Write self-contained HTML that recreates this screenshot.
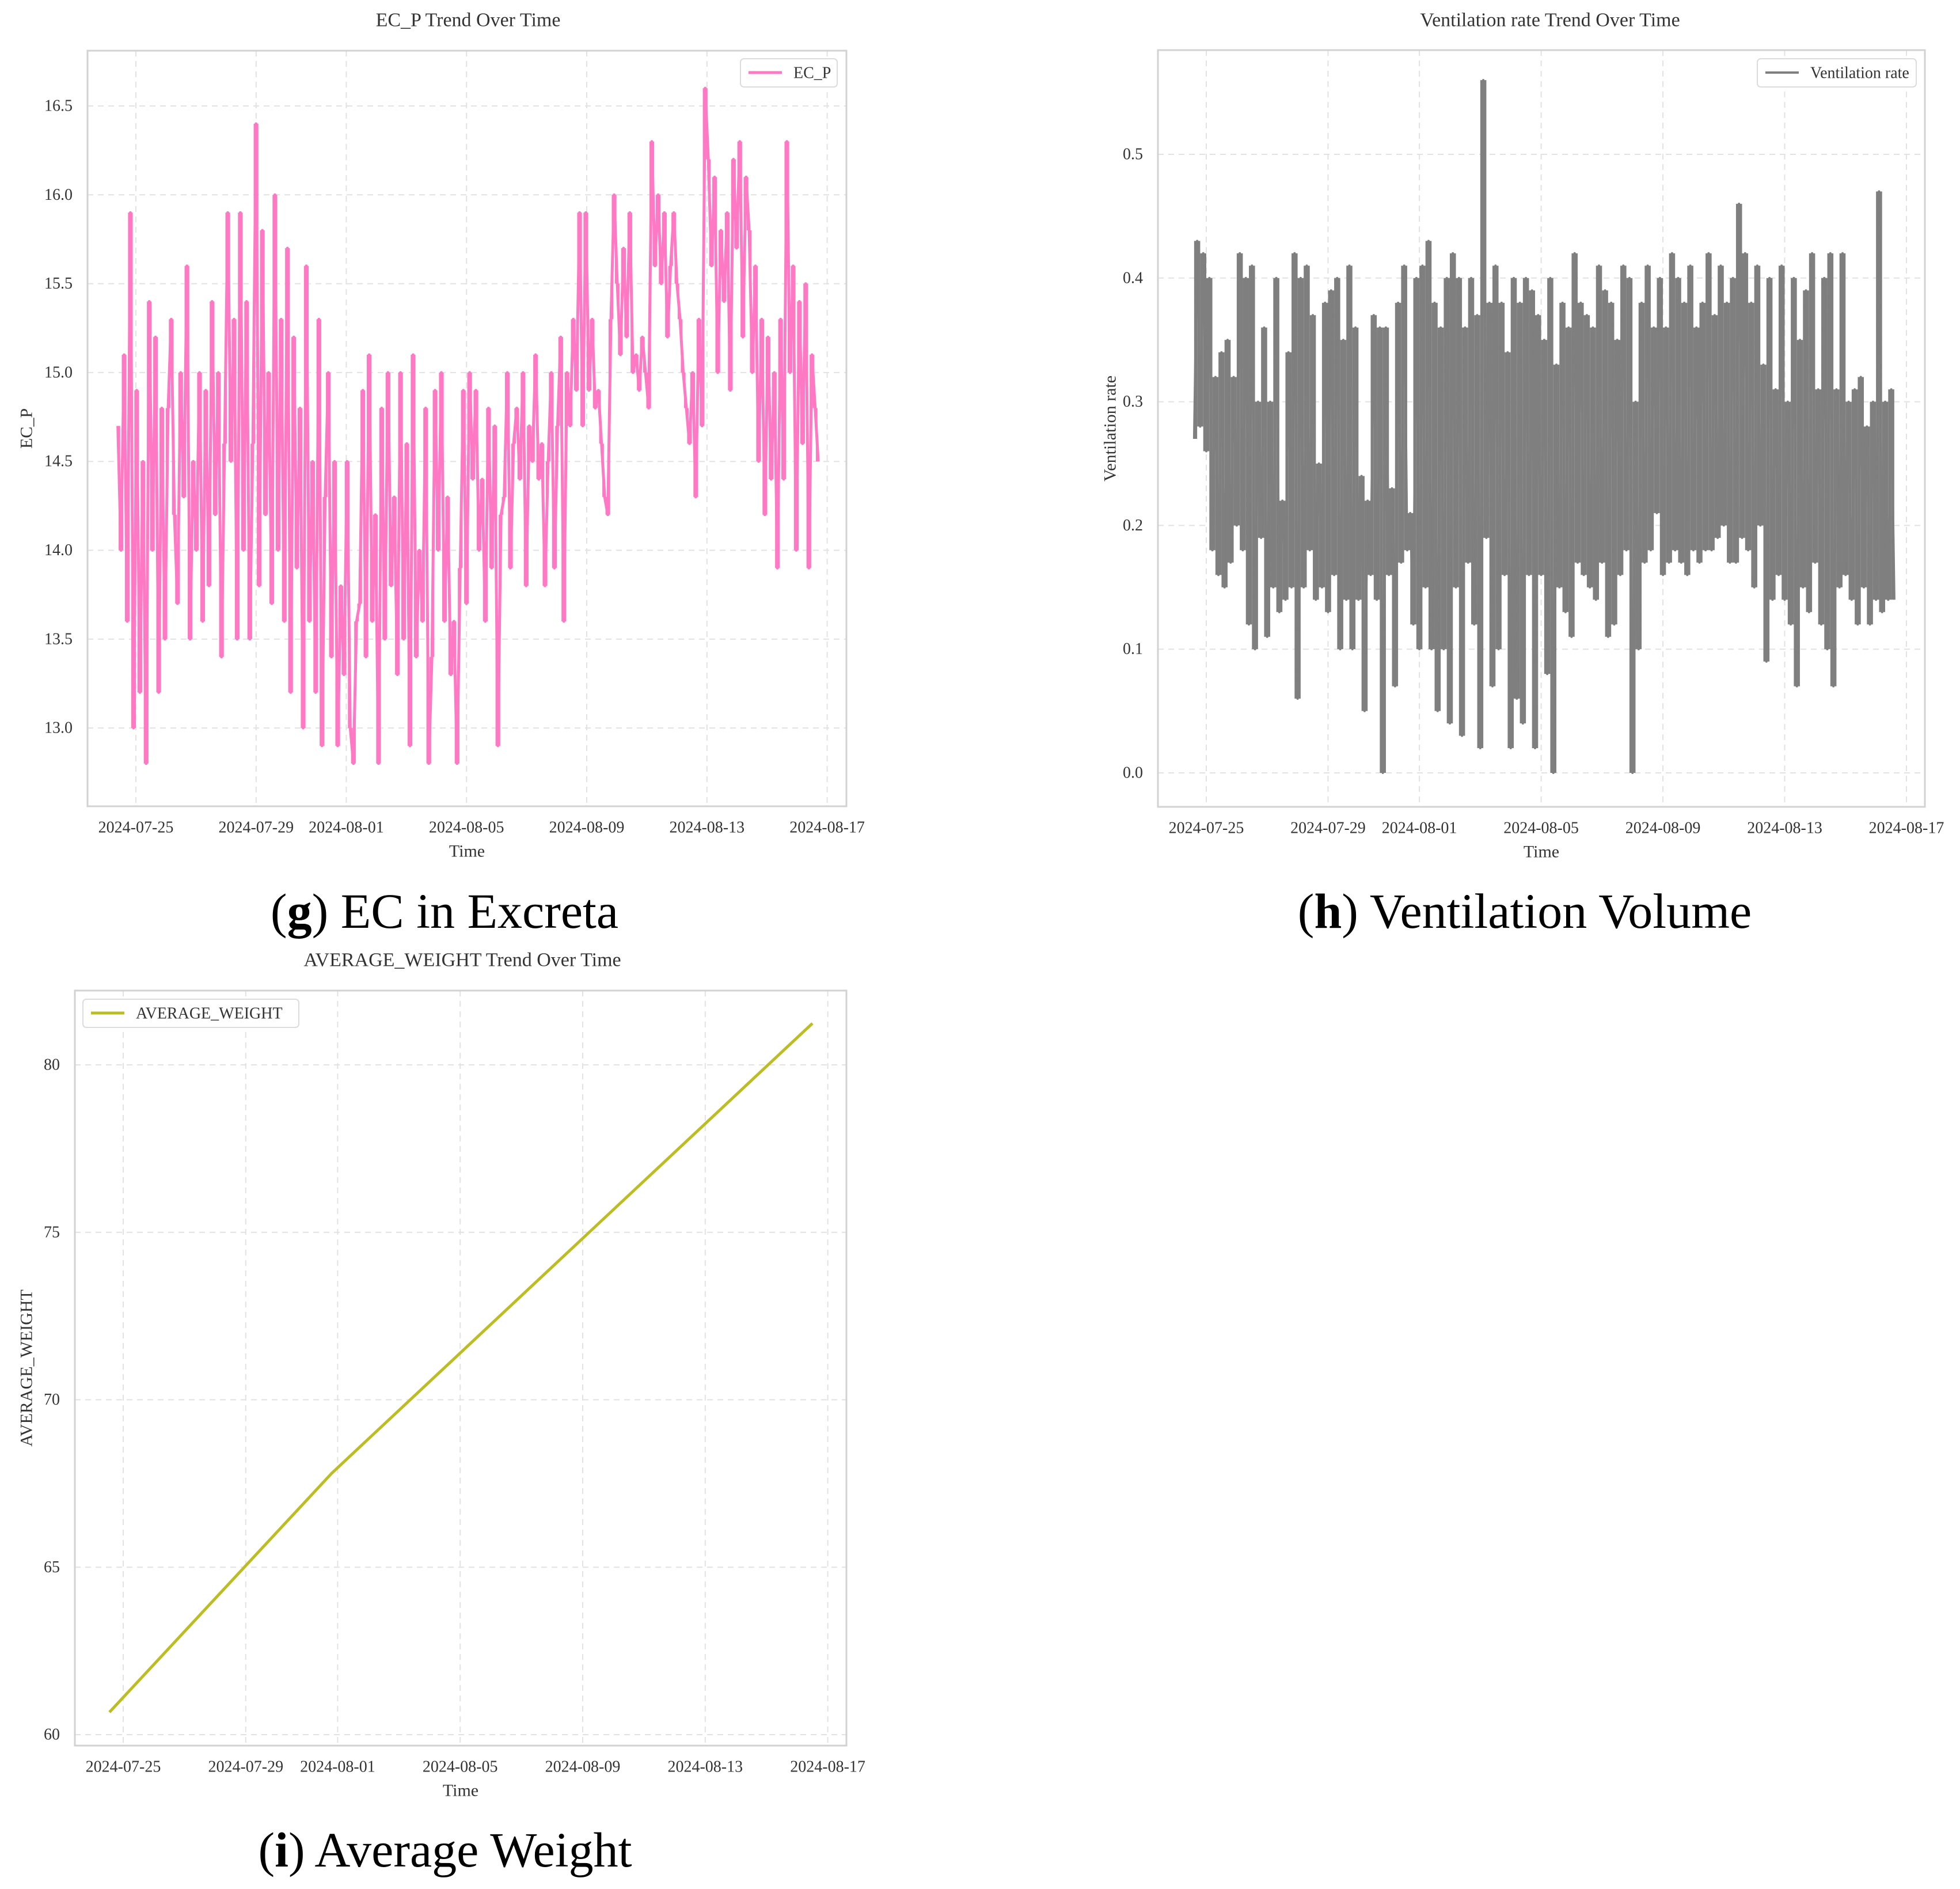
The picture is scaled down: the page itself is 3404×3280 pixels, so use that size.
<!DOCTYPE html>
<html><head><meta charset="utf-8"><style>
html,body{margin:0;padding:0;background:#fff;}
svg{display:block;font-family:"Liberation Serif",serif;}
</style></head><body>
<svg id="s" width="3404" height="3280" viewBox="0 0 3404 3280" xmlns="http://www.w3.org/2000/svg"></svg>
<script>
// ---- data ----
const dateTicks = ["2024-07-25","2024-07-29","2024-08-01","2024-08-05","2024-08-09","2024-08-13","2024-08-17"];
const dateTickDays = [0,4,7,11,15,19,23];
const ecStartDay = -0.6, ecStepDay = 0.1045;
const ecValues = [
14.7,14.0,15.1,13.6,15.9,13.0,14.9,13.2,14.5,12.8,
15.4,14.0,15.2,13.2,14.8,13.5,14.8,15.3,14.2,13.7,
15.0,14.3,15.6,13.5,14.5,14.0,15.0,13.6,14.9,13.8,
15.4,14.2,15.0,13.4,14.6,15.9,14.5,15.3,13.5,15.9,
14.0,15.4,13.5,14.6,16.4,13.8,15.8,14.2,15.0,13.7,
16.0,14.0,15.3,13.6,15.7,13.2,15.2,13.9,14.8,13.0,
15.6,13.6,14.5,13.2,15.3,12.9,14.3,15.0,13.4,14.5,
12.9,13.8,13.3,14.5,13.0,12.8,13.6,13.7,14.9,13.4,
15.1,13.6,14.2,12.8,14.8,13.5,15.0,13.8,14.3,13.3,
15.0,13.5,14.6,12.9,15.1,13.4,14.0,13.6,14.8,12.8,
13.4,14.9,14.0,15.0,13.6,14.3,13.3,13.6,12.8,13.9,
14.9,13.7,15.0,14.4,14.9,14.0,14.4,13.6,14.8,13.9,
14.7,12.9,14.2,14.3,15.0,13.9,14.6,14.8,14.4,15.0,
13.8,14.7,14.5,15.1,14.4,14.6,13.8,14.5,15.0,13.9,
14.7,15.2,13.6,15.0,14.7,15.3,14.9,15.9,14.7,15.9,
14.9,15.3,14.8,14.9,14.6,14.3,14.2,15.3,16.0,15.5,
15.1,15.7,15.2,15.9,15.0,15.1,14.9,15.2,15.0,14.8,
16.3,15.6,16.0,15.5,15.9,15.2,15.6,15.9,15.5,15.3,
15.0,14.8,14.6,15.0,14.3,15.3,14.7,16.6,16.2,15.6,
16.1,15.0,15.8,15.4,15.9,14.9,16.2,15.7,16.3,15.2,
16.1,15.8,15.0,15.6,14.5,15.3,14.2,15.2,14.4,15.0,
13.9,15.3,14.4,16.3,15.0,15.6,14.0,15.4,14.6,15.5,
13.9,15.1,14.8,14.5];
const ecTicks = [13.0,13.5,14.0,14.5,15.0,15.5,16.0,16.5];

const ventStartDay = -0.4, ventStepDay = 0.1;
const ventValues = [
0.27,0.43,0.28,0.42,0.26,0.40,0.18,0.32,0.16,0.34,
0.15,0.35,0.17,0.32,0.20,0.42,0.18,0.40,0.12,0.41,
0.10,0.30,0.19,0.36,0.11,0.30,0.15,0.40,0.13,0.22,
0.14,0.34,0.15,0.42,0.06,0.40,0.15,0.41,0.18,0.37,
0.14,0.25,0.15,0.38,0.13,0.39,0.16,0.40,0.10,0.35,
0.14,0.41,0.10,0.36,0.14,0.24,0.05,0.22,0.16,0.37,
0.14,0.36,0.00,0.36,0.16,0.23,0.07,0.38,0.17,0.41,
0.18,0.21,0.12,0.40,0.10,0.41,0.15,0.43,0.10,0.38,
0.05,0.36,0.10,0.40,0.04,0.42,0.15,0.40,0.03,0.36,
0.17,0.40,0.12,0.37,0.02,0.56,0.19,0.38,0.07,0.41,
0.10,0.38,0.16,0.34,0.02,0.40,0.06,0.38,0.04,0.40,
0.16,0.39,0.02,0.37,0.16,0.35,0.08,0.40,0.00,0.33,
0.15,0.38,0.13,0.36,0.11,0.42,0.17,0.38,0.16,0.37,
0.15,0.36,0.14,0.41,0.17,0.39,0.11,0.38,0.12,0.35,
0.16,0.41,0.18,0.40,0.00,0.30,0.10,0.38,0.17,0.41,
0.18,0.36,0.21,0.40,0.16,0.36,0.17,0.42,0.18,0.40,
0.17,0.38,0.16,0.41,0.18,0.36,0.17,0.38,0.18,0.42,
0.18,0.37,0.19,0.41,0.20,0.38,0.17,0.40,0.17,0.46,
0.19,0.42,0.18,0.38,0.15,0.41,0.20,0.33,0.09,0.40,
0.14,0.31,0.16,0.41,0.14,0.30,0.12,0.40,0.07,0.35,
0.15,0.39,0.13,0.42,0.17,0.31,0.12,0.40,0.10,0.42,
0.07,0.31,0.15,0.42,0.16,0.30,0.14,0.31,0.12,0.32,
0.15,0.28,0.12,0.30,0.14,0.47,0.13,0.30,0.14,0.31,0.14];
const ventTicks = [0.0,0.1,0.2,0.3,0.4,0.5];

const weightDays = [-0.45, 6.8, 22.5];
const weightValues = [60.67, 67.8, 81.24];
const weightTicks = [60,65,70,75,80];

// ---- drawing ----
const svg = document.getElementById('s');
const NS = 'http://www.w3.org/2000/svg';
function mk(tag, attrs, parent){
  const e = document.createElementNS(NS, tag);
  for (const k in attrs) e.setAttribute(k, attrs[k]);
  (parent||svg).appendChild(e);
  return e;
}
function txt(str, x, y, size, anchor, parent, rot){
  const t = mk('text', {x:x, y:y, 'font-size':size, 'text-anchor':anchor||'middle', fill:'#333', 'dominant-baseline':'central'}, parent);
  if (rot) t.setAttribute('transform', 'rotate(-90 '+x+' '+y+')');
  t.textContent = str;
  return t;
}

function chart(cfg){
  const g = mk('g', {});
  
  
  const xs = d => cfg.x0 + d * cfg.pxDay;
  const ys = v => cfg.yRef - (v - cfg.vRef) * cfg.pxUnit;
  dateTickDays.forEach((d, i) => {
    const gl = mk('line', {x1:xs(d), x2:xs(d), y1:cfg.top, y2:cfg.bottom, stroke:'#e2e2e2', 'stroke-width':2, 'stroke-dasharray':'10 8'}, g);
    
    
    const tl = txt(dateTicks[i], xs(d), cfg.bottom + 37, 28, 'middle', g);
    
    
  });
  cfg.ticks.forEach(v => {
    const gl = mk('line', {x1:cfg.left, x2:cfg.right, y1:ys(v), y2:ys(v), stroke:'#e2e2e2', 'stroke-width':2, 'stroke-dasharray':'10 8'}, g);
    
    
    const tl = txt(v.toFixed(cfg.dec), cfg.left - 26, ys(v), 28, 'end', g);
    
    
  });
  if (cfg.band) {
    for (let i = 0; i < cfg.vals.length - 1; i++) {
      const a = ys(cfg.vals[i]), b = ys(cfg.vals[i+1]);
      const x1 = xs(cfg.days[i]), x2 = xs(cfg.days[i+1]);
      const w = (x2 - x1) * cfg.band;
      const r = mk('rect', {x:(x1+x2)/2 - w/2, y:Math.min(a,b), width:w, height:Math.abs(a-b), fill:cfg.color}, g);
      
      
    }
  }
  let d = '';
  cfg.days.forEach((day, i) => {
    d += (i ? 'L' : 'M') + xs(day).toFixed(1) + ' ' + ys(cfg.vals[i]).toFixed(1);
  });
  const p = mk('path', {d:d, fill:'none', stroke:cfg.color, 'stroke-width':cfg.lw, 'stroke-linejoin':'round'}, g);
  
  
  const fr = mk('rect', {x:cfg.left, y:cfg.top, width:cfg.right-cfg.left, height:cfg.bottom-cfg.top, fill:'none', stroke:'#d2d2d2', 'stroke-width':3}, g);
  
  
  const tt = txt(cfg.title, cfg.titleX, cfg.titleY, 34, 'middle', g);
  
  
  const xt = txt('Time', (cfg.left+cfg.right)/2, cfg.bottom + 78, 30, 'middle', g);
  
  
  const yt = txt(cfg.ylabel, cfg.ylabX, (cfg.top+cfg.bottom)/2, 30, 'middle', g, true);
  
  
  const lg = mk('g', {}, g);
  
  
  mk('rect', {x:cfg.legX, y:cfg.legY, width:cfg.legW, height:49, rx:6, fill:'#fff', stroke:'#dcdcdc', 'stroke-width':2}, lg);
  mk('line', {x1:cfg.legX+14, x2:cfg.legX+72, y1:cfg.legY+24, y2:cfg.legY+24, stroke:cfg.color, 'stroke-width':cfg.lw}, lg);
  txt(cfg.seriesLabel, cfg.legX+92, cfg.legY+25, 28, 'start', lg);
  const cap = mk('text', {x:cfg.capX, y:cfg.capY, 'font-size':86, 'text-anchor':'middle', fill:'#000', 'dominant-baseline':'central'}, g);
  
  
  const b1 = document.createElementNS(NS,'tspan'); b1.textContent='('; cap.appendChild(b1);
  const b2 = document.createElementNS(NS,'tspan'); b2.setAttribute('font-weight','bold'); b2.textContent=cfg.capLetter; cap.appendChild(b2);
  const b3 = document.createElementNS(NS,'tspan'); b3.textContent=') '+cfg.capText; cap.appendChild(b3);
}

chart({name:'ec-p-chart', left:152, right:1470, top:88, bottom:1400, x0:236, pxDay:52.2,
  yRef:184, vRef:16.5, pxUnit:308.6, ticks:ecTicks, dec:1,
  days:ecValues.map((v,i)=>ecStartDay+i*ecStepDay), vals:ecValues, band:0.5,
  color:'#ff78c4', lw:5, seriesName:'ec-p-line', seriesLabel:'EC_P',
  title:'EC_P Trend Over Time', titleX:813, titleY:35, ylabel:'EC_P', ylabX:46,
  legX:1286, legY:102, legW:168, capX:772, capY:1582, capLetter:'g', capText:'EC in Excreta'});

chart({name:'ventilation-chart', left:2011, right:3343, top:87, bottom:1401, x0:2095, pxDay:52.87,
  yRef:1342, vRef:0, pxUnit:2148, ticks:ventTicks, dec:1,
  days:ventValues.map((v,i)=>ventStartDay+i*ventStepDay), vals:ventValues, band:1.0,
  color:'#7f7f7f', lw:4, seriesName:'ventilation-line', seriesLabel:'Ventilation rate',
  title:'Ventilation rate Trend Over Time', titleX:2692, titleY:35, ylabel:'Ventilation rate', ylabX:1928,
  legX:3052, legY:102, legW:276, capX:2648, capY:1582, capLetter:'h', capText:'Ventilation Volume'});

chart({name:'average-weight-chart', left:130, right:1470, top:1720, bottom:3031, x0:214, pxDay:53.2,
  yRef:3012, vRef:60, pxUnit:58.15, ticks:weightTicks, dec:0,
  days:weightDays, vals:weightValues,
  color:'#bcbd22', lw:5, seriesName:'average-weight-line', seriesLabel:'AVERAGE_WEIGHT',
  title:'AVERAGE_WEIGHT Trend Over Time', titleX:803, titleY:1667, ylabel:'AVERAGE_WEIGHT', ylabX:46,
  legX:144, legY:1735, legW:375, capX:773, capY:3212, capLetter:'i', capText:'Average Weight'});
</script>
</body></html>
